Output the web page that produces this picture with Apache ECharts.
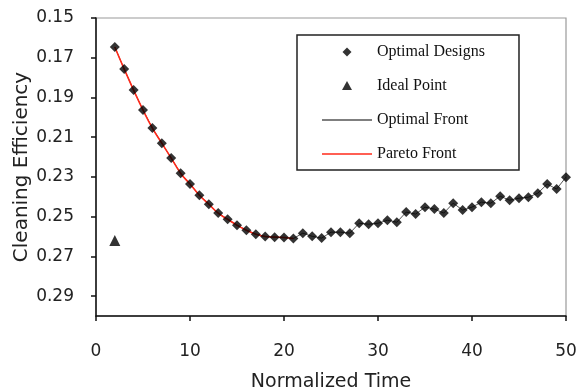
<!DOCTYPE html>
<html>
<head>
<meta charset="utf-8">
<script src="https://cdn.jsdelivr.net/npm/echarts/dist/echarts.min.js"></script>
<style>
  html, body { margin: 0; padding: 0; background: #fff; }
  #main { width: 577px; height: 392px; }
</style>
</head>
<body>
<div id="main"></div>
<script>
// normalized time of every optimal design
var timeValues = [2, 3, 4, 5, 6, 7, 8, 9, 10, 11, 12, 13, 14, 15, 16, 17, 18, 19, 20, 21,
  22, 23, 24, 25, 26, 27, 28, 29, 30, 31, 32, 33, 34, 35, 36, 37, 38, 39, 40,
  41, 42, 43, 44, 45, 46, 47, 48, 49, 50];
// cleaning efficiency of every optimal design
var designEff = [0.1646, 0.1757, 0.1863, 0.1963, 0.2054, 0.2130, 0.2205, 0.2281, 0.2336, 0.2392,
  0.2437, 0.2482, 0.2513, 0.2543, 0.2568, 0.2588, 0.2600, 0.2603, 0.2605, 0.2610,
  0.2583, 0.2599, 0.2608, 0.2578, 0.2578, 0.2583, 0.2533, 0.2538, 0.2533, 0.2518,
  0.2528, 0.2477, 0.2487, 0.2452, 0.2462, 0.2482, 0.2432, 0.2467, 0.2452, 0.2427,
  0.2432, 0.2397, 0.2417, 0.2407, 0.2402, 0.2382, 0.2336, 0.2361, 0.2301];
// pareto front covers designs up to time 21
var paretoEnd = 21;
var idealPoint = [2, 0.262];
var yTicks = [0.15, 0.17, 0.19, 0.21, 0.23, 0.25, 0.27, 0.29];

var designData = timeValues.map(function (t, i) { return [t, designEff[i]]; });
var paretoData = designData.filter(function (d) { return d[0] <= paretoEnd; });

// legend icons drawn inside a 50x14 box so markers keep their size
var iconDiamond = 'path://M0,0M50,14M20.5,7L25,2.5L29.5,7L25,11.5Z';
var iconTriangle = 'path://M0,0M50,14M25,2L30,11L20,11Z';
var iconLine = 'path://M0,0H50V1.4H0Z';

var axisFont = 'DejaVu Sans';
var myChart = echarts.init(document.getElementById('main'));
var option = {
  animation: false,
  grid: {
    left: 96, right: 11, top: 18, bottom: 76,
    outerBoundsMode: 'none',
    show: true, borderColor: '#9a9a9a', borderWidth: 1.2
  },
  legend: {
    orient: 'vertical',
    left: 297, top: 35,
    padding: [9, 34, 8, 25],
    itemWidth: 50, itemHeight: 14, itemGap: 18,
    borderColor: '#222', borderWidth: 1.5,
    selectedMode: false,
    textStyle: { fontFamily: 'Liberation Serif', fontSize: 16, color: '#111' },
    data: [
      { name: 'Optimal Designs', icon: iconDiamond },
      { name: 'Ideal Point', icon: iconTriangle },
      { name: 'Optimal Front', icon: iconLine },
      { name: 'Pareto Front', icon: iconLine }
    ]
  },
  xAxis: {
    type: 'value',
    min: 0, max: 50, interval: 10,
    name: 'Normalized Time',
    nameLocation: 'middle', nameGap: 57,
    nameMoveOverlap: false,
    nameTextStyle: { fontFamily: axisFont, fontSize: 19, color: '#222' },
    axisLine: { onZero: false, lineStyle: { color: '#111', width: 1.5 } },
    axisTick: { length: 5, lineStyle: { color: '#111', width: 1.5 } },
    axisLabel: { margin: 27, fontFamily: axisFont, fontSize: 17, color: '#222' },
    splitLine: { show: false }
  },
  yAxis: {
    type: 'value',
    inverse: true,
    min: 0.15, max: 0.30,
    name: 'Cleaning Efficiency',
    nameLocation: 'middle', nameGap: 64,
    nameMoveOverlap: false,
    nameTextStyle: { fontFamily: axisFont, fontSize: 20, color: '#222' },
    axisLine: { show: true, lineStyle: { color: '#111', width: 1.5 } },
    axisTick: { show: true, length: 5, customValues: yTicks, lineStyle: { color: '#111', width: 1.5 } },
    axisLabel: {
      margin: 22, fontFamily: axisFont, fontSize: 17, color: '#222',
      customValues: yTicks,
      formatter: function (v) { return v.toFixed(2); }
    },
    splitLine: { show: false }
  },
  series: [
    {
      name: 'Optimal Front', type: 'line', data: designData,
      showSymbol: false, color: '#555',
      lineStyle: { color: '#555', width: 1 }, z: 2
    },
    {
      name: 'Pareto Front', type: 'line', data: paretoData,
      showSymbol: false, smooth: true, color: '#ff2a1a',
      lineStyle: { color: '#ff2a1a', width: 1.6 }, z: 3
    },
    {
      name: 'Optimal Designs', type: 'scatter', data: designData,
      symbol: 'diamond', symbolSize: 10, color: '#000', z: 4
    },
    {
      name: 'Ideal Point', type: 'scatter', data: [idealPoint],
      symbol: 'triangle', symbolSize: 11, color: '#000', z: 4
    }
  ]
};
myChart.setOption(option);
</script>
</body>
</html>
